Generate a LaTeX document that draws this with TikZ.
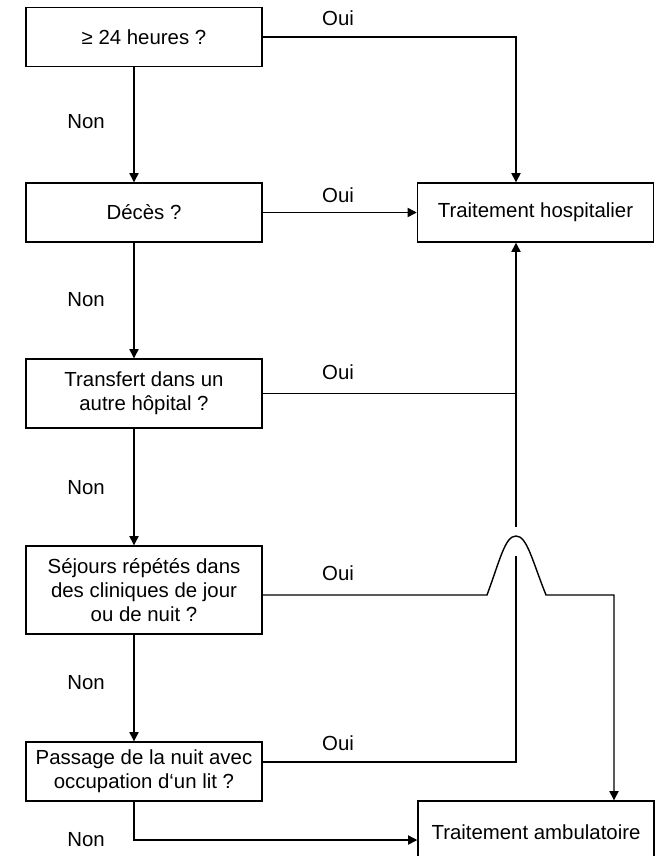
\documentclass[tikz,border=0pt]{standalone}
\usepackage{fontspec}
\setmainfont{Liberation Sans}
\usetikzlibrary{positioning,calc,arrows.meta}

\begin{document}
\begin{tikzpicture}[x=0.025cm,y=-0.025cm]
      \tikzstyle{every node}=[font=\fontsize{14.5}{17}\selectfont]
      \tikzstyle{boite}=[draw,line width=1pt,minimum width=5.9cm,align=center,inner sep=0pt]
      \tikzstyle{fleche}=[line width=1pt,-{Triangle[length=6.5pt,width=6.5pt]}]
      \tikzstyle{trait}=[line width=1pt]

      \useasboundingbox (0,0) rectangle (659,856);

      % questions
      \node[boite,minimum height=1.475cm] (heures) at (144,37) {≥ 24 heures ?};
      \node[boite,minimum height=1.475cm] (deces) at (144,212.5) {Décès ?};
      \node[boite,minimum height=1.725cm] (transfert) at (144,393.5) {Transfert dans un\\autre hôpital ?};
      \node[boite,minimum height=2.2cm] (sejours) at (144,590) {Séjours répétés dans\\des cliniques de jour\\ou de nuit ?};
      \node[boite,minimum height=1.475cm] (passage) at (144,771.5) {Passage de la nuit avec\\occupation d‘un lit ?};

      % resultats
      \node[boite,minimum height=1.475cm] (hosp) at (535.5,212.5) {Traitement hospitalier};
      \node[boite,minimum height=1.55cm] (ambul) at (536,832) {Traitement ambulatoire};

      \coordinate (colL) at (134,0);
      \coordinate (colR) at (516,0);
      \coordinate (colA) at (614,0);
      \coordinate (saut) at (516,527);
      \coordinate (b1) at (487,595);
      \coordinate (b2) at (546,595);
      \coordinate (p1) at (516,762);
      \coordinate (p2) at (516,556);
      \coordinate (bas) at (134,840);

      % Non
      \draw[fleche] (heures.south -| colL) -- (deces.north -| colL);
      \draw[fleche] (deces.south -| colL) -- (transfert.north -| colL);
      \draw[fleche] (transfert.south -| colL) -- (sejours.north -| colL);
      \draw[fleche] (sejours.south -| colL) -- (passage.north -| colL);
      \draw[fleche] (passage.south -| colL) -- (bas) -- (bas -| ambul.west);

      % Oui
      \draw[fleche] (heures.east) -- (heures.east -| colR) -- (hosp.north -| colR);
      \draw[fleche] (deces) -- (hosp);
      \draw[trait] (transfert.east) -- (transfert.east -| colR);
      \draw[fleche] (saut) -- (hosp.south -| colR);
      \draw[fleche] (sejours.east |- b1) -- (b1)
            .. controls (500,560) and (505,536) .. (516,536)
            .. controls (527,536) and (532,560) .. (b2)
            -- (b2 -| colA) -- (ambul.north -| colA);
      \draw[trait] (passage.east |- p1) -- (p1) -- (p2);

      % etiquettes
      \node (non1) at (86,122) {Non};
      \node (non2) at (86,300) {Non};
      \node (non3) at (86,488) {Non};
      \node (non4) at (86,683) {Non};
      \node (non5) at (86,840) {Non};
      \node (oui1) at (338,18) {Oui};
      \node (oui2) at (338,195) {Oui};
      \node (oui3) at (338,372) {Oui};
      \node (oui4) at (338,573) {Oui};
      \node (oui5) at (338,743) {Oui};

\end{tikzpicture}
\end{document}
